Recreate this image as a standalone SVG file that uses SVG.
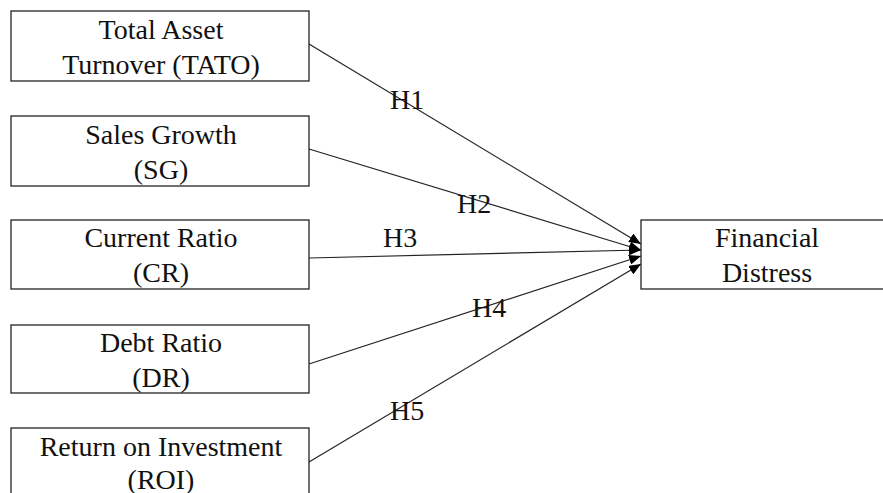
<svg xmlns="http://www.w3.org/2000/svg" width="883" height="493" viewBox="0 0 883 493">
<style>
.box{fill:#fff;stroke:#222;stroke-width:1.3}
text{font-family:'Liberation Serif','Times New Roman',Times,'DejaVu Serif',serif;font-size:28px;fill:#111}
.t{text-anchor:middle}
.c{stroke:#222;stroke-width:1.2;fill:none;marker-end:url(#ah)}
</style>
<defs>
<marker id="ah" viewBox="0 0 12 10" refX="12" refY="5" markerWidth="12" markerHeight="10" markerUnits="userSpaceOnUse" orient="auto">
<path d="M0,0 L12,5 L0,10 z" fill="#000"/>
</marker>
</defs>
<rect width="883" height="493" fill="#fff"/>
<g id="connectors">
<line class="c" x1="309" y1="44" x2="641" y2="244"/>
<line class="c" x1="309" y1="149" x2="641" y2="250"/>
<line class="c" x1="309" y1="258" x2="641" y2="250"/>
<line class="c" x1="309" y1="364" x2="641" y2="256"/>
<line class="c" x1="309" y1="462" x2="641" y2="264"/>
<text class="h" x="390" y="109" font-family="Liberation Serif, serif">H1</text>
<text class="h" x="457" y="213" font-family="Liberation Serif, serif">H2</text>
<text class="h" x="383" y="247" font-family="Liberation Serif, serif">H3</text>
<text class="h" x="472" y="317" font-family="Liberation Serif, serif">H4</text>
<text class="h" x="390" y="420" font-family="Liberation Serif, serif">H5</text>
</g>
<g id="tato">
<rect class="box" x="11" y="11" width="298" height="70"/>
<text class="t" x="161" y="39">Total Asset</text>
<text class="t" x="161" y="74">Turnover (TATO)</text>
</g>
<g id="sg">
<rect class="box" x="11" y="116" width="298" height="70"/>
<text class="t" x="161" y="144">Sales Growth</text>
<text class="t" x="161" y="179">(SG)</text>
</g>
<g id="cr">
<rect class="box" x="11" y="220" width="298" height="69"/>
<text class="t" x="161" y="247">Current Ratio</text>
<text class="t" x="161" y="282">(CR)</text>
</g>
<g id="dr">
<rect class="box" x="11" y="325" width="298" height="68"/>
<text class="t" x="161" y="352">Debt Ratio</text>
<text class="t" x="161" y="387">(DR)</text>
</g>
<g id="roi">
<rect class="box" x="11" y="428" width="298" height="80"/>
<text class="t" x="161" y="456">Return on Investment</text>
<text class="t" x="161" y="489">(ROI)</text>
</g>
<g id="fd">
<rect class="box" x="641" y="220" width="253" height="69"/>
<text class="t" x="767" y="247">Financial</text>
<text class="t" x="767" y="282">Distress</text>
</g>
</svg>
